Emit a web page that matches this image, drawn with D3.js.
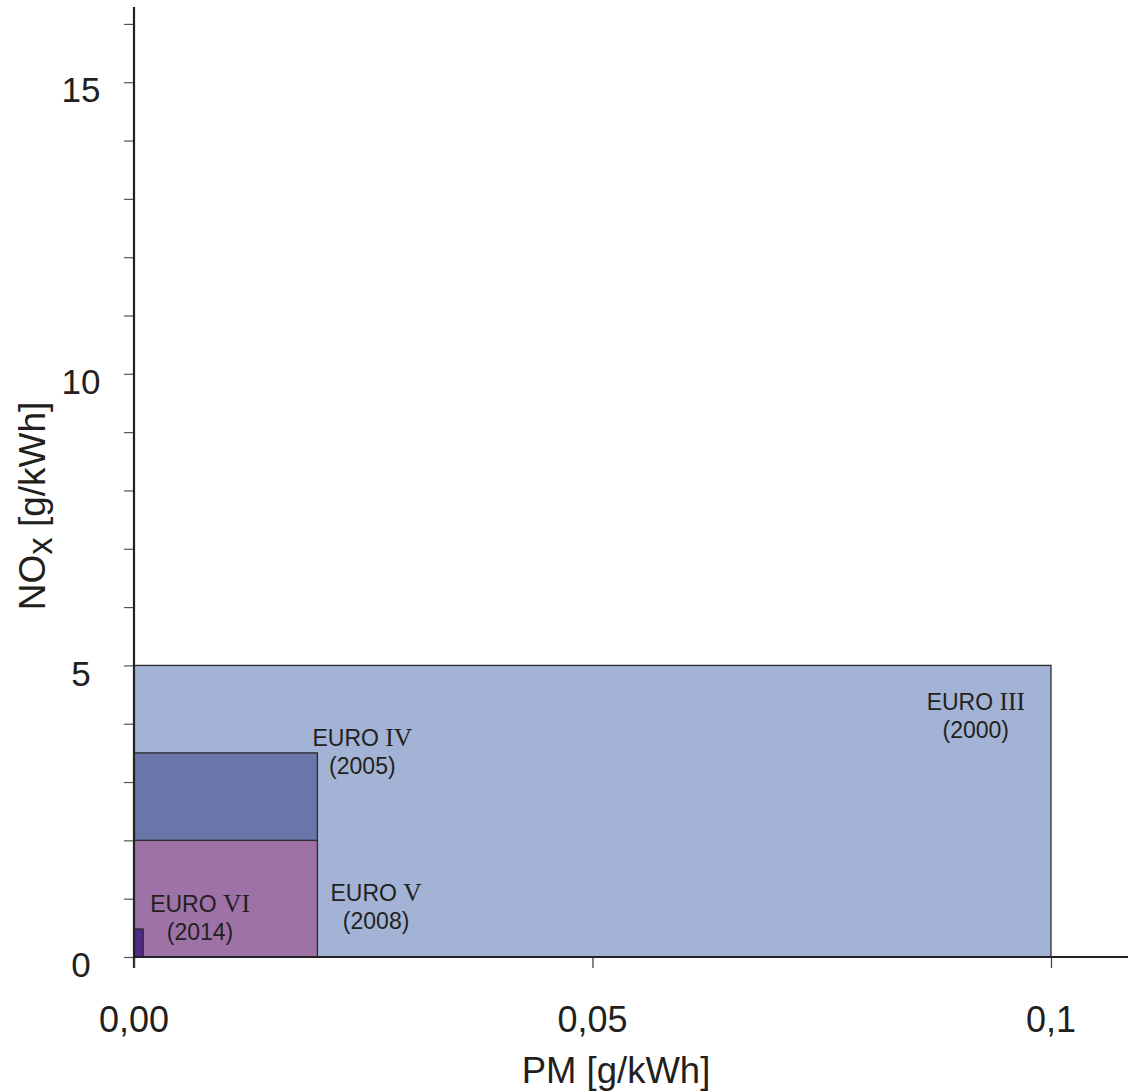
<!DOCTYPE html>
<html>
<head>
<meta charset="utf-8">
<script src="https://cdn.jsdelivr.net/npm/d3@7"></script>
<style>
  html, body { margin: 0; padding: 0; background: #fff; }
  svg { display: block; }
</style>
</head>
<body>
<svg id="chart" width="1128" height="1091"></svg>
<script>
// ---- data ----
const stages   = ["EURO III", "EURO IV", "EURO V", "EURO VI"];
const years    = ["(2000)", "(2005)", "(2008)", "(2014)"];
const pmLimit  = [0.1, 0.02, 0.02, 0.001];   // g/kWh (x extent of each box)
const noxLimit = [5.0, 3.5, 2.0, 0.48];      // g/kWh (y extent of each box)
const labelPM  = [0.0918, 0.0249, 0.0264, 0.0072]; // label anchor (data units)
const labelNOx = [4.23, 3.62, 0.965, 0.77];
const xTickValues = [0, 0.05, 0.1];
const xTickLabels = ["0,00", "0,05", "0,1"];
const yTickValues = [0, 5, 10, 15];
const yTickLabels = ["0", "5", "10", "15"];
const yMinorTicks = d3.range(0, 17, 1);

// ---- styling ----
const fills = ["#a3b3d5", "#6a75aa", "#9e72a6", "#52298a"];
const ink = "#231f20";
const sans = "'Liberation Sans', Arial, sans-serif";
const serif = "'Liberation Serif', 'Times New Roman', serif";

const svg = d3.select("#chart");
const x = d3.scaleLinear().domain([0, 0.1084]).range([134, 1128]);
const y = d3.scaleLinear().domain([0, 16.29]).range([957, 7]);

const rows = stages.map((s, i) => ({ s, yr: years[i], pm: pmLimit[i], nox: noxLimit[i], fill: fills[i], lx: labelPM[i], ly: labelNOx[i] }));

svg.append("g").selectAll("rect").data(rows).join("rect")
  .attr("x", x(0))
  .attr("y", d => y(d.nox))
  .attr("width", d => x(d.pm) - x(0))
  .attr("height", d => y(0) - y(d.nox))
  .attr("fill", d => d.fill)
  .attr("stroke", "#2b2b2b")
  .attr("stroke-width", 1.3);

// labels
const lab = svg.append("g").selectAll("g").data(rows).join("g")
  .attr("transform", d => `translate(${x(d.lx)},${y(d.ly)})`);
const l1 = lab.append("text")
  .attr("text-anchor", "middle")
  .attr("font-size", 23)
  .attr("fill", ink);
l1.append("tspan").attr("font-family", sans).text(d => d.s.split(" ")[0] + " ");
l1.append("tspan").attr("font-family", serif).attr("font-size", 25.5).text(d => d.s.split(" ")[1]);
lab.append("text")
  .attr("text-anchor", "middle")
  .attr("y", 28)
  .attr("font-family", sans)
  .attr("font-size", 23)
  .attr("fill", ink)
  .text(d => d.yr);

// y axis (minor ticks every unit)
const yAxis = d3.axisLeft(y).tickValues(yMinorTicks).tickSize(10).tickFormat("");
const gy = svg.append("g").attr("transform", `translate(${x(0)},0)`).call(yAxis);
gy.select(".domain").remove();
gy.selectAll(".tick line").attr("stroke", "#555").attr("stroke-width", 1.2);
svg.append("line")
  .attr("x1", x(0)).attr("x2", x(0))
  .attr("y1", y(16.29)).attr("y2", y(0) + 11)
  .attr("stroke", "#222").attr("stroke-width", 2.2);

svg.append("g").selectAll("text").data(yTickValues).join("text")
  .attr("x", 81)
  .attr("y", d => y(d) + 8)
  .attr("dy", "0.35em")
  .attr("text-anchor", "middle")
  .attr("font-family", sans)
  .attr("font-size", 35)
  .attr("fill", ink)
  .text((d, i) => yTickLabels[i]);

// x axis
const xAxis = d3.axisBottom(x).tickValues(xTickValues).tickSize(11).tickFormat("");
const gx = svg.append("g").attr("transform", `translate(0,${y(0)})`).call(xAxis);
gx.select(".domain").remove();
gx.selectAll(".tick line").attr("stroke", "#444").attr("stroke-width", 1.3);
svg.append("line")
  .attr("x1", x(0)).attr("x2", 1128)
  .attr("y1", y(0)).attr("y2", y(0))
  .attr("stroke", "#222").attr("stroke-width", 2.2);

svg.append("g").selectAll("text").data(xTickValues).join("text")
  .attr("x", d => x(d))
  .attr("y", 1032)
  .attr("text-anchor", "middle")
  .attr("font-family", sans)
  .attr("font-size", 36)
  .attr("fill", ink)
  .text((d, i) => xTickLabels[i]);

// axis titles
svg.append("text")
  .attr("x", 616).attr("y", 1083)
  .attr("text-anchor", "middle")
  .attr("font-family", sans)
  .attr("font-size", 36.5)
  .attr("fill", ink)
  .text("PM [g/kWh]");

const yt = svg.append("text")
  .attr("transform", "translate(45,506) rotate(-90)")
  .attr("text-anchor", "middle")
  .attr("font-family", sans)
  .attr("font-size", 37)
  .attr("fill", ink);
yt.append("tspan").text("NO");
yt.append("tspan").attr("dy", 7).attr("font-size", 35).text("x");
yt.append("tspan").attr("dy", -7).text(" [g/kWh]");
</script>
</body>
</html>
